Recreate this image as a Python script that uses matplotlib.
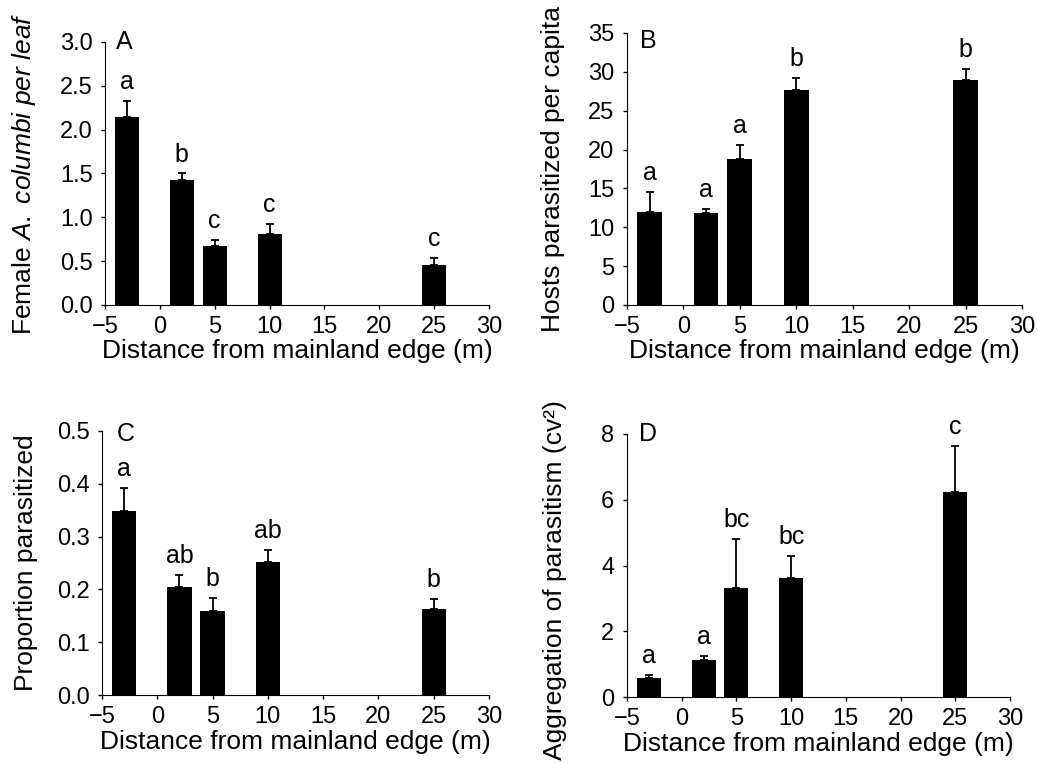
import matplotlib.pyplot as plt
import numpy as np

plt.rcParams['font.family'] = ['Liberation Sans', 'DejaVu Sans']
plt.rcParams['mathtext.fontset'] = 'custom'
plt.rcParams['mathtext.it'] = 'Liberation Sans:italic'
plt.rcParams['mathtext.rm'] = 'Liberation Sans'

# distances (m) of the sampling positions
distance = [-3, 2, 5, 10, 25]

# panel A: female A. columbi per leaf
females = [2.15, 1.43, 0.67, 0.81, 0.46]
females_se = [0.18, 0.07, 0.07, 0.11, 0.08]
females_grp = ['a', 'b', 'c', 'c', 'c']

# panel B: hosts parasitized per capita
hosts = [12.0, 11.8, 18.8, 27.7, 28.9]
hosts_se = [2.6, 0.5, 1.8, 1.5, 1.5]
hosts_grp = ['a', 'a', 'a', 'b', 'b']

# panel C: proportion parasitized
prop = [0.349, 0.205, 0.160, 0.251, 0.162]
prop_se = [0.043, 0.022, 0.023, 0.024, 0.019]
prop_grp = ['a', 'ab', 'b', 'ab', 'b']

# panel D: aggregation of parasitism (CV^2)
aggr = [0.57, 1.12, 3.32, 3.63, 6.25]
aggr_se = [0.11, 0.13, 1.50, 0.65, 1.38]
aggr_grp = ['a', 'a', 'bc', 'bc', 'c']

panels = [
    ('A', females, females_se, females_grp, 'Female $\\mathit{A.\\ columbi\\ per\\ leaf}$',
     (0, 3.0), np.arange(0, 3.01, 0.5), '%.1f', [105, 42, 489, 305], 0.05, 1.0, (-0.174, 0.5)),
    ('B', hosts, hosts_se, hosts_grp, 'Hosts parasitized per capita',
     (0, 35), np.arange(0, 36, 5), '%d', [627, 33, 1022, 305], 0.054, 0.97, (-0.157, 0.5)),
    ('C', prop, prop_se, prop_grp, 'Proportion parasitized',
     (0, 0.5), np.arange(0, 0.51, 0.1), '%.1f', [102, 431, 489, 695], 0.062, 0.99, (-0.165, 0.5)),
    ('D', aggr, aggr_se, aggr_grp, 'Aggregation of parasitism (ᴄᴠ²)',
     (0, 8), np.arange(0, 8.1, 2), '%d', [627, 434, 1010, 697], 0.056, 1.0, (-0.157, 0.445)),
]

W, H = 1038, 763
fig = plt.figure(figsize=(W / 100, H / 100), dpi=100)

for tag, vals, se, grp, ylab, ylim, yticks, fmt, box, tx, ty, lab_xy in panels:
    x0, y0, x1, y1 = box
    ax = fig.add_axes([x0 / W, (H - y1) / H, (x1 - x0) / W, (y1 - y0) / H])
    ax.bar(distance, vals, width=2.2, color='black')
    ax.errorbar(distance, vals, yerr=[np.zeros(len(se)), se], fmt='none',
                ecolor='black', elinewidth=1.3, capsize=3, capthick=1.3)
    for xi, v, e, g in zip(distance, vals, se, grp):
        ax.annotate(g, xy=(xi, v + e), xytext=(0, 5), textcoords='offset points',
                    ha='center', va='bottom', fontsize=18)
    ax.text(tx, ty, tag, transform=ax.transAxes, ha='center', va='center', fontsize=18)
    ax.set_xlim(-5, 30)
    ax.set_ylim(*ylim)
    ax.set_xticks(range(-5, 31, 5))
    ax.set_xticklabels(['\u22125'] + [str(v) for v in range(0, 31, 5)])
    ax.set_yticks(yticks)
    ax.set_yticklabels([fmt % v for v in yticks])
    ax.tick_params(labelsize=17, length=3, width=1)
    ax.tick_params(axis='x', pad=5)
    ax.tick_params(axis='y', pad=6)
    ax.spines['top'].set_visible(False)
    ax.spines['right'].set_visible(False)
    ax.set_xlabel('Distance from mainland edge (m)', fontsize=19, labelpad=1)
    ax.set_ylabel(ylab, fontsize=19)
    ax.yaxis.set_label_coords(*lab_xy)

plt.savefig('out.png', dpi=100)
